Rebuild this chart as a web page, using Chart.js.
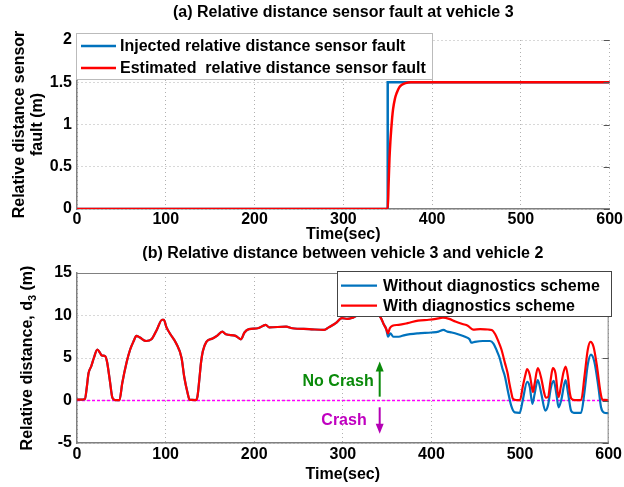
<!DOCTYPE html>
<html><head><meta charset="utf-8">
<script src="https://cdn.jsdelivr.net/npm/chart.js@4/dist/chart.umd.min.js"></script>
<style>
html,body{margin:0;padding:0;background:#fff;width:624px;height:487px;overflow:hidden}
canvas{position:absolute;left:0}
#c1{top:0}
#c2{top:243px}
</style></head><body>
<canvas id="c1" width="624" height="243"></canvas>
<canvas id="c2" width="624" height="244"></canvas>
<script>
// ---------- data ----------
const timeTicks = [0, 100, 200, 300, 400, 500, 600];
const faultTicks = [0, 0.5, 1, 1.5, 2];
const distTicks = [-5, 0, 5, 10, 15];

const injectedTime  = [0, 350, 350, 600];
const injectedFault = [0, 0, 1.5, 1.5];
const estimatedTime  = [0, 350, 351, 352, 353, 354, 355, 356, 358, 360, 363, 366, 370, 376, 600];
const estimatedFault = [0, 0, 0.3, 0.6, 0.8, 0.95, 1.08, 1.18, 1.3, 1.37, 1.44, 1.47, 1.49, 1.5, 1.5];

const withTime = [0, 5, 9, 11, 13, 16, 19, 23, 26, 28, 32, 34, 37, 40, 43, 48, 51, 56, 60, 64, 67, 71, 78, 84, 90, 96, 98, 101, 106, 112, 118, 121, 125, 127, 134, 136, 138, 140, 142, 146, 153, 158, 164, 168, 179, 185, 189, 194, 204, 213, 217, 236, 243, 262, 279, 284, 292, 299, 305, 310, 316, 325, 335, 340, 343, 346, 349, 351, 353, 356, 363, 373, 385, 397, 405, 413, 420, 427, 435, 441, 447, 455, 464, 468, 472, 475, 479, 483, 486, 488, 490, 492, 496, 500, 503, 506, 508, 511, 513, 514.6, 516.5, 520, 524, 527, 529, 531.5, 534.5, 537, 540, 543.5, 546, 549, 551.5, 554, 556, 558, 562, 569, 572.7, 576.4, 579.4, 583, 587, 590.7, 593, 600];
const withDist = [0.1, 0.1, 0.2, 1.5, 3.2, 4, 5, 6, 5.6, 5.3, 5.2, 4.5, 2.4, 0.3, 0.05, 0.05, 2, 4.5, 6, 7, 7.6, 7.4, 7.0, 7.2, 8.3, 9.5, 9.5, 8.6, 7.7, 6.7, 5.0, 2.8, 0.8, 0.1, 0.05, 0.5, 2.4, 4.5, 5.8, 6.9, 7.3, 7.6, 8.1, 7.8, 7.6, 7.2, 8.0, 8.4, 8.5, 8.9, 8.6, 8.7, 8.5, 8.4, 8.3, 8.6, 9.1, 9.7, 9.6, 9.7, 10.0, 10.3, 10.4, 10.1, 9.7, 9.0, 8.4, 7.9, 8.5, 8.8, 8.9, 9.1, 9.4, 9.5, 9.6, 9.75, 9.6, 9.3, 9.0, 8.8, 8.35, 8.4, 8.35, 8.3, 7.8, 7.1, 6.0, 4.4, 3.2, 2.0, 1.0, 0.2, 0.05, 0.05, 1.6, 3.0, 3.7, 3.0, 1.8, 1.0, 2.0, 3.8, 2.6, 1.0, 0.35, 0.4, 2.4, 3.8, 3.2, 0.4, 1.6, 3.3, 4.0, 2.8, 1.0, 0.2, 0.05, 0.05, 2.8, 5.95, 6.9, 6.3, 3.9, 1.0, 0.1, 0.05];

// "without diagnostics" follows the same trace until the fault at ~350 s
const withoutTimeAfter = [351, 353.6, 357, 363, 370, 385, 400, 408, 413.5, 418, 423, 430, 438, 443, 445, 449, 458, 466, 470, 474, 477, 480, 483, 486.5, 490, 494, 499.6, 503, 508, 511, 513.9, 516.5, 520, 524, 528.5, 531.5, 535, 538, 541, 543.5, 546.4, 551.4, 554, 557.6, 560.7, 568.9, 572.7, 576.4, 580, 584, 588.4, 591.4, 594.4, 600];
const withoutDistAfter = [7.5, 7.9, 7.5, 7.5, 7.7, 7.9, 8.0, 8.1, 8.3, 8.1, 8.0, 7.8, 7.5, 7.2, 6.8, 6.9, 7.0, 7.0, 6.7, 5.8, 5.0, 3.8, 2.8, 1.0, -0.6, -1.4, -1.45, 0, 2.2, 1.6, -0.4, 0.8, 2.4, 0.8, -1.2, -0.6, 1.6, 2.3, 0.8, -0.8, 0, 2.4, 1.0, -1.2, -1.45, -1.45, 1.0, 4.2, 5.4, 4.5, 1.6, -0.8, -1.4, -1.5];

const zeroTime = [0, 600];
const zeroDist = [0, 0];

// ---------- helpers ----------
const FF = '"Liberation Sans", Arial, Helvetica, sans-serif';
const bold = s => ({family: FF, size: s, weight: 'bold'});
const pts = (xs, ys) => xs.map((x, i) => ({x: x, y: ys[i]}));
const withoutTime = withTime.filter(t => t <= 349).concat(withoutTimeAfter);
const withoutDist = withDist.filter((v, i) => withTime[i] <= 349).concat(withoutDistAfter);

function drawRich(ctx, parts) {
  let w = 0;
  parts.forEach(p => { ctx.font = 'bold ' + (p.sub ? 11 : 16) + 'px ' + FF; p.w = ctx.measureText(p.text).width; w += p.w; });
  let x = -w / 2;
  ctx.textAlign = 'left'; ctx.textBaseline = 'middle';
  parts.forEach(p => { ctx.font = 'bold ' + (p.sub ? 11 : 16) + 'px ' + FF; ctx.fillText(p.text, x, p.sub ? 5 : 0); x += p.w; });
}

function arrow(ctx, x, y1, y2, color) {
  const dir = y2 < y1 ? -1 : 1;
  ctx.strokeStyle = color; ctx.fillStyle = color; ctx.lineWidth = 2;
  ctx.beginPath(); ctx.moveTo(x, y1); ctx.lineTo(x, y2 - dir * 8); ctx.stroke();
  ctx.beginPath(); ctx.moveTo(x, y2); ctx.lineTo(x - 4, y2 - dir * 10); ctx.lineTo(x + 4, y2 - dir * 10); ctx.closePath(); ctx.fill();
}

const decor = {
  id: 'decor',
  afterDraw(chart, args, o) {
    const ctx = chart.ctx, a = chart.chartArea, xs = chart.scales.x, ys = chart.scales.y;
    ctx.save();
    // frame
    ctx.strokeStyle = o.boxColor; ctx.lineWidth = 1;
    if (o.fullBox) { ctx.beginPath(); ctx.moveTo(a.left, a.top + 0.5); ctx.lineTo(a.right - 0.5, a.top + 0.5); ctx.lineTo(a.right - 0.5, a.bottom); ctx.stroke(); }
    ctx.strokeStyle = '#555';
    ys.ticks.forEach(t => { const y = Math.round(ys.getPixelForValue(t.value)) + 0.5; ctx.beginPath(); ctx.moveTo(a.right - 6, y); ctx.lineTo(a.right, y); ctx.stroke(); });
    // annotations
    (o.arrows || []).forEach(ar => arrow(ctx, xs.getPixelForValue(ar.x), ys.getPixelForValue(ar.from), ys.getPixelForValue(ar.to), ar.color));
    (o.notes || []).forEach(n => {
      ctx.font = 'bold 16px ' + FF; ctx.fillStyle = n.color; ctx.textAlign = 'right'; ctx.textBaseline = 'middle';
      ctx.fillText(n.text, xs.getPixelForValue(n.x) - n.dx, ys.getPixelForValue(n.y));
    });
    // titles
    ctx.fillStyle = '#000'; ctx.textAlign = 'center'; ctx.textBaseline = 'middle';
    ctx.font = 'bold 16px ' + FF;
    const cx = (a.left + a.right) / 2, cy = (a.top + a.bottom) / 2;
    ctx.fillText(o.title, cx, o.titleY);
    ctx.fillText(o.xTitle, cx, o.xTitleY);
    o.yTitle.forEach(line => { ctx.save(); ctx.translate(line.x, cy); ctx.rotate(-Math.PI / 2); ctx.fillStyle = '#000'; drawRich(ctx, line.parts); ctx.restore(); });
    // legend
    const L = o.legend;
    ctx.fillStyle = '#fff'; ctx.fillRect(L.x0, L.y0, L.x1 - L.x0, L.y1 - L.y0);
    ctx.strokeStyle = L.border; ctx.lineWidth = 1; ctx.strokeRect(L.x0 + 0.5, L.y0 + 0.5, L.x1 - L.x0 - 1, L.y1 - L.y0 - 1);
    L.items.forEach(it => {
      const ds = chart.data.datasets[it.ds];
      ctx.strokeStyle = ds.borderColor; ctx.lineWidth = ds.borderWidth;
      ctx.beginPath(); ctx.moveTo(L.lx0, it.y); ctx.lineTo(L.lx1, it.y); ctx.stroke();
      ctx.fillStyle = '#000'; ctx.font = 'bold 16px ' + FF; ctx.textAlign = 'left'; ctx.textBaseline = 'middle';
      ctx.fillText(ds.label, L.tx, it.y + 1);
    });
    ctx.restore();
  }
};

function axis(ticksArr, extra, tickPad) {
  return Object.assign({
    type: 'linear',
    afterBuildTicks: s => { s.ticks = ticksArr.map(v => ({value: v})); },
    ticks: {font: bold(16), color: '#000', autoSkip: false, maxRotation: 0, padding: tickPad, callback: v => String(v)},
    grid: {color: '#b0b0b0', lineWidth: 1, drawTicks: false},
    border: {color: '#808080', width: 1.5, dash: [1, 3]}
  }, extra);
}

const common = {
  responsive: false, animation: false, events: [],
  plugins: {legend: {display: false}, tooltip: {enabled: false}, title: {display: false}},
  elements: {point: {radius: 0}}
};

// ---------- chart (a) ----------
new Chart(document.getElementById('c1'), {
  type: 'line',
  data: {datasets: [
    {label: 'Injected relative distance sensor fault', data: pts(injectedTime, injectedFault), borderColor: '#0072bd', borderWidth: 2.5, tension: 0, order: 1},
    {label: 'Estimated  relative distance sensor fault', data: pts(estimatedTime, estimatedFault), borderColor: '#ff0000', borderWidth: 2.5, cubicInterpolationMode: 'monotone', order: 0}
  ]},
  options: Object.assign({}, common, {
    layout: {padding: {top: 40, right: 13, left: 0, bottom: 0}},
    scales: {
      x: axis(timeTicks, {min: 0, max: 600, afterFit: s => { s.height = 34; }}, 1),
      y: axis(faultTicks, {min: 0, max: 2, afterFit: s => { s.width = 77; }}, 5)
    },
    plugins: Object.assign({}, common.plugins, {decor: {
      title: '(a) Relative distance sensor fault at vehicle 3', titleY: 13,
      xTitle: 'Time(sec)', xTitleY: 235,
      yTitle: [{x: 20, parts: [{text: 'Relative distance sensor'}]}, {x: 38, parts: [{text: 'fault (m)'}]}],
      boxColor: '#c8c8c8', fullBox: false,
      legend: {x0: 76, y0: 33, x1: 433, y1: 80, border: '#bbbbbb', lx0: 81, lx1: 116, tx: 120, items: [{ds: 0, y: 46}, {ds: 1, y: 68}]}
    }})
  }),
  plugins: [decor]
});

// ---------- chart (b) ----------
new Chart(document.getElementById('c2'), {
  type: 'line',
  data: {datasets: [
    {label: 'Without diagnostics scheme', data: pts(withoutTime, withoutDist), borderColor: '#0072bd', borderWidth: 2.2, cubicInterpolationMode: 'monotone', order: 1},
    {label: 'With diagnostics scheme', data: pts(withTime, withDist), borderColor: '#ff0000', borderWidth: 2.2, cubicInterpolationMode: 'monotone', order: 0},
    {label: 'zero', data: pts(zeroTime, zeroDist), borderColor: '#ff00ff', borderWidth: 1.5, borderDash: [3, 2], tension: 0, order: 2}
  ]},
  options: Object.assign({}, common, {
    layout: {padding: {top: 30, right: 13, left: 0, bottom: 0}},
    scales: {
      x: axis(timeTicks, {min: 0, max: 600, afterFit: s => { s.height = 44; }}, 2),
      y: axis(distTicks, {min: -5, max: 15, afterFit: s => { s.width = 77; }}, 5)
    },
    plugins: Object.assign({}, common.plugins, {decor: {
      title: '(b) Relative distance between vehicle 3 and vehicle 2', titleY: 11,
      xTitle: 'Time(sec)', xTitleY: 232,
      yTitle: [{x: 28, parts: [{text: 'Relative distance, d'}, {text: '3', sub: true}, {text: ' (m)'}]}],
      boxColor: '#808080', fullBox: true,
      arrows: [{x: 341.6, from: 0.45, to: 4.6, color: '#0a8a0a'}, {x: 341.6, from: -0.8, to: -3.9, color: '#b400b4'}],
      notes: [{text: 'No Crash', x: 341.6, dx: 6, y: 2.2, color: '#0a8a0a'}, {text: 'Crash', x: 341.6, dx: 13, y: -2.4, color: '#c000c0'}],
      legend: {x0: 337, y0: 28, x1: 612, y1: 74, border: '#444444', lx0: 341, lx1: 377, tx: 383, items: [{ds: 0, y: 42.7}, {ds: 1, y: 62.7}]}
    }})
  }),
  plugins: [decor]
});
</script>
</body></html>
